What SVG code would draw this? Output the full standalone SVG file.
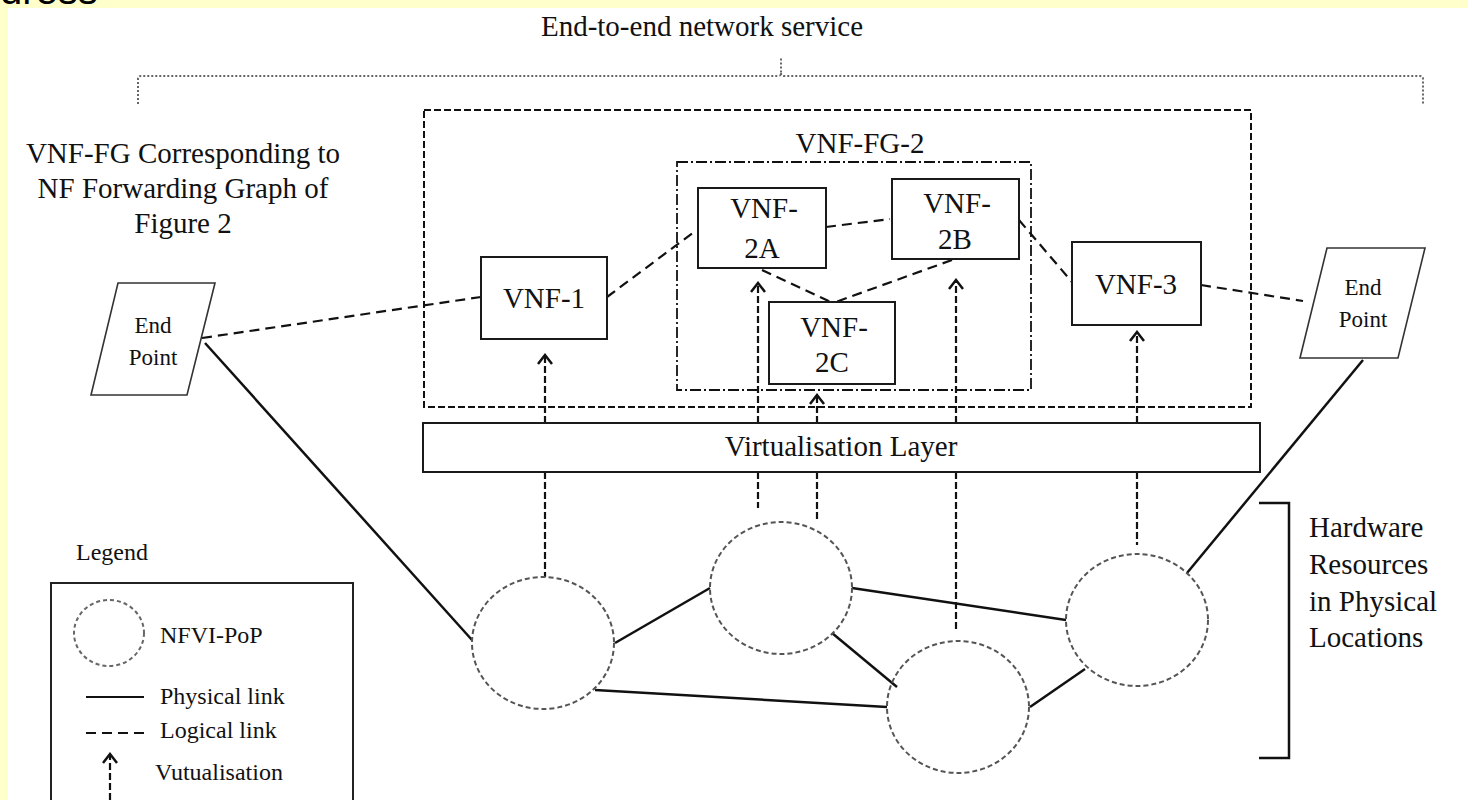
<svg xmlns="http://www.w3.org/2000/svg" width="1468" height="800" viewBox="0 0 1468 800">
<defs>
<style>
text{font-family:"Liberation Serif","Times New Roman",serif;fill:#111}
.lbl{font-size:29px}
.ep{font-size:23px}
.leg{font-size:24px}
.box{fill:#fff;stroke:#1a1a1a;stroke-width:2}
.pop{fill:none;stroke:#555;stroke-width:2;stroke-dasharray:5 3}
.phys{fill:none;stroke:#111;stroke-width:2.5}
.logic{fill:none;stroke:#111;stroke-width:2.2;stroke-dasharray:10 6}
.virt{fill:none;stroke:#111;stroke-width:2.2;stroke-dasharray:7 3}
</style>
<marker id="chev" markerUnits="userSpaceOnUse" viewBox="-12 -8 14 16" refX="0" refY="0" markerWidth="14" markerHeight="16" orient="auto">
<path d="M-9,-7 L0,0 L-9,7" fill="none" stroke="#111" stroke-width="2.5" stroke-dasharray="none"/>
</marker>
</defs>
<rect x="0" y="0" width="1468" height="800" fill="#fff"/>
<rect x="0" y="0" width="1468" height="8" fill="#FFFFCC"/>
<rect x="0" y="0" width="8" height="800" fill="#FFFFCC"/>
<text x="0" y="4" style="font-family:'Liberation Sans',Arial,sans-serif;font-size:40px;fill:#000">dress</text>

<g id="title">
<text class="lbl" x="702" y="36" text-anchor="middle">End-to-end network service</text>
<path d="M138,104 V79 Q138,76 141,76 H778 Q781,76 781,73 V57 M781,73 Q781,76 784,76 H1420 Q1423,76 1423,79 V105" fill="none" stroke="#666" stroke-width="2" stroke-dasharray="2 2"/>
</g>

<g id="caption">
<text class="lbl" text-anchor="middle"><tspan x="183" y="163">VNF-FG Corresponding to</tspan><tspan x="183" y="198">NF Forwarding Graph of</tspan><tspan x="183" y="233">Figure 2</tspan></text>
</g>

<g id="outer-box">
<rect x="424" y="110" width="827" height="297" fill="none" stroke="#111" stroke-width="2" stroke-dasharray="7 3"/>
</g>
<g id="vnffg2-box">
<rect x="677" y="162" width="354" height="228" fill="none" stroke="#111" stroke-width="1.8" stroke-dasharray="11 3 2 3"/>
<text class="lbl" x="860" y="153" text-anchor="middle">VNF-FG-2</text>
</g>

<g id="connectors">
<!-- physical links -->
<path class="phys" d="M205,343 L472,640"/>
<path class="phys" d="M615,643 L710,588"/>
<path class="phys" d="M595,690 L887,707"/>
<path class="phys" d="M832,633 L897,687"/>
<path class="phys" d="M852,588 L1066,620"/>
<path class="phys" d="M1030,707 L1085,669"/>
<path class="phys" d="M1187,573 L1363,360"/>
<!-- logical links -->
<path class="logic" d="M202,338 L481,297"/>
<path class="logic" d="M607,297 L694,232"/>
<path class="logic" d="M826,227 L890,219"/>
<path class="logic" d="M762,270 L833,303"/>
<path class="logic" d="M952,260 L833,303"/>
<path class="logic" d="M1019,220 L1072,282"/>
<path class="logic" d="M1201,285 L1303,301"/>
<!-- virtualisation -->
<path class="virt" d="M545,423 V355" marker-end="url(#chev)"/>
<path class="virt" d="M545,472 V577"/>
<path class="virt" d="M758,423 V283" marker-end="url(#chev)"/>
<path class="virt" d="M758,472 V508"/>
<path class="virt" d="M817,423 V395" marker-end="url(#chev)"/>
<path class="virt" d="M817,472 V522"/>
<path class="virt" d="M956,423 V280" marker-end="url(#chev)"/>
<path class="virt" d="M956,472 V632"/>
<path class="virt" d="M1137,423 V332" marker-end="url(#chev)"/>
<path class="virt" d="M1137,472 V545"/>
</g>

<g id="pop-a"><ellipse class="pop" cx="543" cy="643" rx="71" ry="66"/></g>
<g id="pop-b"><ellipse class="pop" cx="781" cy="588" rx="71" ry="66"/></g>
<g id="pop-c"><ellipse class="pop" cx="958" cy="707" rx="71" ry="66"/></g>
<g id="pop-d"><ellipse class="pop" cx="1137" cy="620" rx="71" ry="66"/></g>

<g id="endpoint-left">
<path d="M118,283 H215 L187,395 H91 Z" fill="#fff" stroke="#333" stroke-width="1.6"/>
<text class="ep" text-anchor="middle"><tspan x="153" y="333">End</tspan><tspan x="153" y="365">Point</tspan></text>
</g>
<g id="endpoint-right">
<path d="M1327,248 H1425 L1398,358 H1300 Z" fill="#fff" stroke="#333" stroke-width="1.6"/>
<text class="ep" text-anchor="middle"><tspan x="1363" y="295">End</tspan><tspan x="1363" y="327">Point</tspan></text>
</g>

<g id="vnf-1">
<rect class="box" x="481" y="257" width="126" height="82"/>
<text class="lbl" x="544" y="308" text-anchor="middle">VNF-1</text>
</g>
<g id="vnf-2a">
<rect class="box" x="698" y="188" width="128" height="80"/>
<text class="lbl" text-anchor="middle"><tspan x="764" y="218">VNF-</tspan><tspan x="762" y="258">2A</tspan></text>
</g>
<g id="vnf-2b">
<rect class="box" x="892" y="179" width="127" height="80"/>
<text class="lbl" text-anchor="middle"><tspan x="957" y="213">VNF-</tspan><tspan x="955" y="249">2B</tspan></text>
</g>
<g id="vnf-2c">
<rect class="box" x="769" y="302" width="126" height="82"/>
<text class="lbl" text-anchor="middle"><tspan x="834" y="337">VNF-</tspan><tspan x="832" y="372">2C</tspan></text>
</g>
<g id="vnf-3">
<rect class="box" x="1072" y="242" width="129" height="83"/>
<text class="lbl" x="1136" y="294" text-anchor="middle">VNF-3</text>
</g>

<g id="virtualisation-layer">
<rect class="box" x="423" y="423" width="837" height="49"/>
<text class="lbl" x="841" y="456" text-anchor="middle">Virtualisation Layer</text>
</g>

<g id="hardware">
<path d="M1259,503 H1289 V758 H1259" fill="none" stroke="#111" stroke-width="2.5"/>
<text class="lbl"><tspan x="1309" y="537">Hardware</tspan><tspan x="1309" y="574">Resources</tspan><tspan x="1309" y="611">in Physical</tspan><tspan x="1309" y="647">Locations</tspan></text>
</g>

<g id="legend">
<text class="leg" x="76" y="560">Legend</text>
<rect x="51" y="583" width="302" height="230" fill="none" stroke="#222" stroke-width="2"/>
<ellipse cx="109" cy="633" rx="35" ry="33" fill="none" stroke="#666" stroke-width="2" stroke-dasharray="4 3"/>
<text class="leg" x="160" y="643">NFVI-PoP</text>
<path d="M86,697 H144" fill="none" stroke="#111" stroke-width="2"/>
<text class="leg" x="160" y="704">Physical link</text>
<path d="M86,733 H144" fill="none" stroke="#111" stroke-width="2" stroke-dasharray="10 6"/>
<text class="leg" x="160" y="738">Logical link</text>
<path class="virt" d="M110,800 V754" marker-end="url(#chev)"/>
<text class="leg" x="155" y="780">Vutualisation</text>
</g>
</svg>
